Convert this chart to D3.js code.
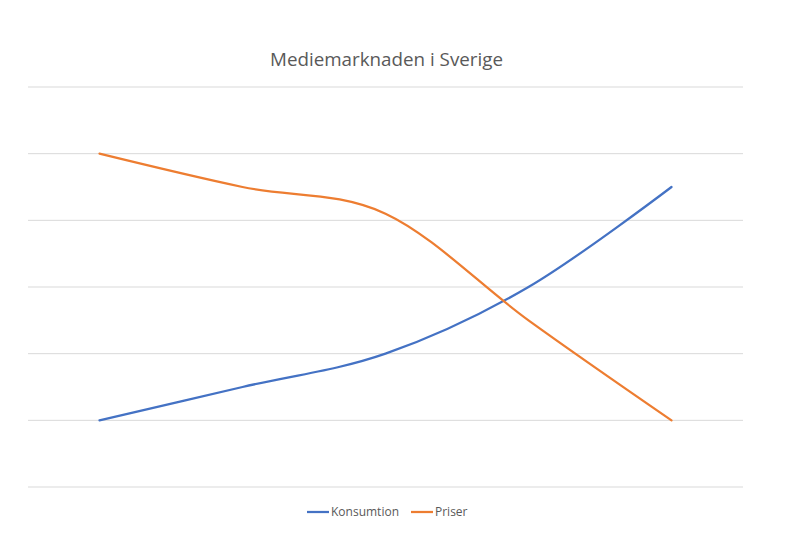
<!DOCTYPE html>
<html><head><meta charset="utf-8">
<script src="https://cdn.jsdelivr.net/npm/d3@7"></script>
<style>body{margin:0;background:#fff}</style>
</head><body>
<svg id="chart" width="800" height="540"></svg>
<script>
const categories = ["1", "2", "3", "4", "5"];
const konsumtion = [1, 1.5, 2, 3, 4.5];
const priser = [5, 4.5, 4.1, 2.5, 1];
const yTicks = [0, 1, 2, 3, 4, 5, 6];
const seriesNames = ["Konsumtion", "Priser"];
const colors = ["#4472C4", "#ED7D31"];
const title = "Mediemarknaden i Sverige";

const svg = d3.select("#chart");
const x = d3.scalePoint().domain(categories).range([28, 743]).padding(0.5);
const y = d3.scaleLinear().domain([0, 6]).range([487, 87]);

svg.append("g").selectAll("line").data(yTicks).join("line")
  .attr("x1", 28).attr("x2", 743)
  .attr("y1", d => y(d)).attr("y2", d => y(d))
  .attr("stroke", "#d9d9d9").attr("stroke-width", 1);

svg.append("text").attr("x", 386.5).attr("y", 66).attr("text-anchor", "middle")
  .attr("font-family", "'Open Sans', sans-serif").attr("font-size", 18.8)
  .attr("fill", "#595959").text(title);

const line = d3.line().x((d, i) => x(categories[i])).y(d => y(d))
  .curve(d3.curveCardinal.tension(0));
[konsumtion, priser].forEach((s, k) => {
  svg.append("path").datum(s).attr("d", line).attr("fill", "none")
    .attr("stroke", colors[k]).attr("stroke-width", 2.25).attr("stroke-linecap", "round");
});

const legend = [{x: 307, name: seriesNames[0], c: colors[0]}, {x: 411, name: seriesNames[1], c: colors[1]}];
legend.forEach(l => {
  svg.append("line").attr("x1", l.x).attr("x2", l.x + 22).attr("y1", 512).attr("y2", 512)
    .attr("stroke", l.c).attr("stroke-width", 2.25);
  svg.append("text").attr("x", l.x + 24).attr("y", 516)
    .attr("font-family", "'Open Sans', sans-serif").attr("font-size", 12)
    .attr("fill", "#595959").text(l.name);
});
</script>
</body></html>
